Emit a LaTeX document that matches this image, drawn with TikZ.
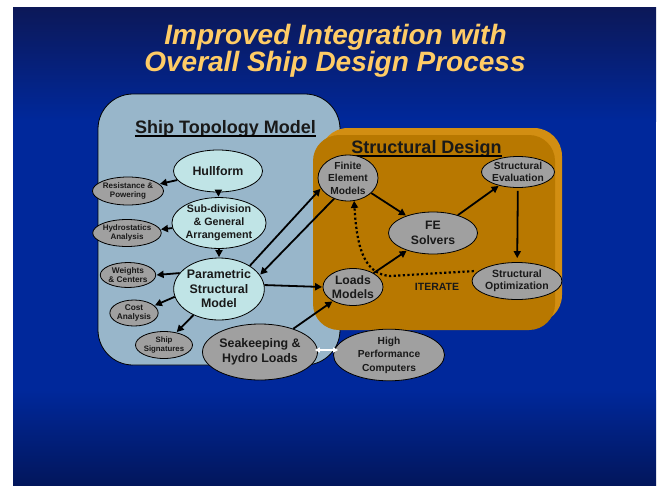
\documentclass[tikz,border=0pt]{standalone}
\usepackage{fontspec}
\setmainfont{Liberation Sans}
\usetikzlibrary{shapes.geometric,arrows.meta}
\definecolor{bgdark}{RGB}{12,24,88}
\definecolor{bgbright}{RGB}{0,40,155}
\definecolor{bgbot}{RGB}{2,22,92}
\definecolor{topo}{RGB}{152,182,202}
\definecolor{orng}{RGB}{184,120,0}
\definecolor{orngl}{RGB}{210,142,18}
\definecolor{cyanf}{RGB}{192,228,230}
\definecolor{grayf}{RGB}{160,160,160}
\definecolor{titley}{RGB}{255,204,102}
\definecolor{txt}{RGB}{25,25,25}
\newcommand{\fsz}[2]{\fontsize{#1}{#2}\selectfont}
\begin{document}
\begin{tikzpicture}[x=1pt,y=-1pt,
  lightnode/.style={ellipse, draw=black, line width=0.8pt, fill=cyanf, inner sep=0pt, align=center, text=txt, font=\bfseries},
  graynode/.style={ellipse, draw=black, line width=0.8pt, fill=grayf, inner sep=0pt, align=center, text=txt, font=\bfseries},
  arr/.style={line width=1.8pt, -{Triangle[length=7pt,width=7pt]}, shorten >=0.5pt},
  dotarr/.style={line width=2.2pt, dash pattern=on 2.2pt off 2.4pt, -{Triangle[length=7pt,width=7pt]}},
  whitearr/.style={white, line width=1.3pt, {Triangle[length=5pt,width=5pt]}-{Triangle[length=5pt,width=5pt]}},
  boxtitle/.style={font=\bfseries\fsz{18}{18}, text=txt, anchor=base, inner sep=0pt}
]
\useasboundingbox (0,0) rectangle (661,485);
\fill[white] (0,0) rectangle (661,485);
\shade[top color=bgdark,bottom color=bgbright] (13,7) rectangle (656,121);
\fill[bgbright] (13,120) rectangle (656,391);
\shade[top color=bgbright,bottom color=bgbot] (13,390) rectangle (656,485);

% title
\node[font=\bfseries\itshape\fsz{28}{28}, text=titley, anchor=base] (t1) at (335.5,44) {Improved Integration with};
\node[font=\bfseries\itshape\fsz{28}{28}, text=titley, anchor=base] (t2) at (335,71) {Overall Ship Design Process};

% ship topology box
\draw[fill=topo, draw=black, line width=0.8pt, rounded corners=35pt] (98,94) rectangle (340,365);
\node[boxtitle] (stm) at (225.5,133) {Ship Topology Model};
\draw[line width=1.8pt] ([yshift=-3pt]stm.base west) -- ([yshift=-3pt]stm.base east);

% structural design box
\fill[orngl, rounded corners=28pt] (320,128) rectangle (562,323);
\fill[orng, rounded corners=26pt] (313,135) rectangle (555,330);
\node[boxtitle] (sdt) at (426.5,153) {Structural Design};
\draw[line width=1.8pt] ([yshift=-3pt]sdt.base west) -- ([yshift=-3pt]sdt.base east);

% nodes
\node[lightnode, minimum width=89pt, minimum height=42pt, font=\bfseries\fsz{12.4}{14.5}] (hull) at (218,171) {Hullform};
\node[lightnode, minimum width=88pt, minimum height=42pt, font=\bfseries\fsz{10.7}{13}] (sub) at (219,223) {Sub-division\\\& General\\Arrangement};
\node[lightnode, minimum width=82pt, minimum height=62pt, font=\bfseries\fsz{12.4}{14.5}] (param) at (219,289) {Parametric\\Structural\\Model};
\node[graynode, minimum width=47pt, minimum height=28pt, font=\bfseries\fsz{8}{9.5}] (res) at (128,191) {Resistance \&\\Powering};
\node[graynode, minimum width=47pt, minimum height=27pt, font=\bfseries\fsz{8}{9.5}] (hyd) at (127,233) {Hydrostatics\\Analysis};
\node[graynode, minimum width=42pt, minimum height=25pt, font=\bfseries\fsz{8.3}{9.5}] (wts) at (128,275) {Weights\\\& Centers};
\node[graynode, minimum width=41pt, minimum height=26pt, font=\bfseries\fsz{8.3}{9.5}] (cost) at (134,313) {Cost\\Analysis};
\node[graynode, minimum width=42pt, minimum height=27pt, font=\bfseries\fsz{7.8}{9.5}] (sig) at (164,345) {Ship\\Signatures};
\node[graynode, minimum width=110pt, minimum height=56pt, font=\bfseries\fsz{12.4}{14.5}] (sea) at (260,352) {Seakeeping \&\\Hydro Loads};
\node[graynode, minimum width=111pt, minimum height=44pt, font=\bfseries\fsz{10.2}{13.5}] (hpc) at (389,355) {High\\Performance\\Computers};
\node[graynode, minimum width=60pt, minimum height=38pt, font=\bfseries\fsz{10.2}{12.5}] (fem) at (348,178) {Finite\\Element\\Models};
\node[graynode, minimum width=60pt, minimum height=37pt, font=\bfseries\fsz{12.2}{14}] (loads) at (353,287) {Loads\\Models};
\node[graynode, minimum width=89pt, minimum height=42pt, font=\bfseries\fsz{12.2}{14.3}] (fes) at (433,233) {FE\\Solvers};
\node[graynode, minimum width=60pt, minimum height=31pt, font=\bfseries\fsz{10.2}{12.5}] (eval) at (518,172) {Structural\\Evaluation};
\node[graynode, minimum width=67pt, minimum height=37pt, font=\bfseries\fsz{10.5}{12.5}] (opt) at (517,281) {Structural\\Optimization};
\node[font=\bfseries\fsz{10.5}{12}, text=txt] (iter) at (437,287) {ITERATE};

% connectors
\draw[arr] (hull) -- (res);
\draw[arr] (hull) -- (sub);
\draw[arr] (sub) -- (hyd);
\draw[arr] (sub) -- (param);
\draw[arr] (param.158) -- (wts.0);
\draw[arr] (param.190) -- (cost.20);
\draw[arr] (param) -- (sig);
\draw[arr] (param.37) -- (fem.201);
\draw[arr] (fem.236) -- (param.19);
\draw[arr] (param.5) -- (loads.180);
\draw[arr] (sea) -- (loads);
\draw[arr] (fem) -- (fes);
\draw[arr] (loads) -- (fes);
\draw[arr] (fes) -- (eval);
\draw[arr, shorten <=3pt, shorten >=4pt] (eval) -- (opt);
\coordinate (itb) at (390,276);
\draw[dotarr, shorten <=5pt] (opt.165) -- (itb) .. controls (366,274) and (357,252) .. (fem.-75);
\draw[whitearr] ([xshift=-3pt,yshift=2pt]sea.east) -- ([xshift=5pt,yshift=2pt]sea.east -| hpc.west);
\end{tikzpicture}
\end{document}
